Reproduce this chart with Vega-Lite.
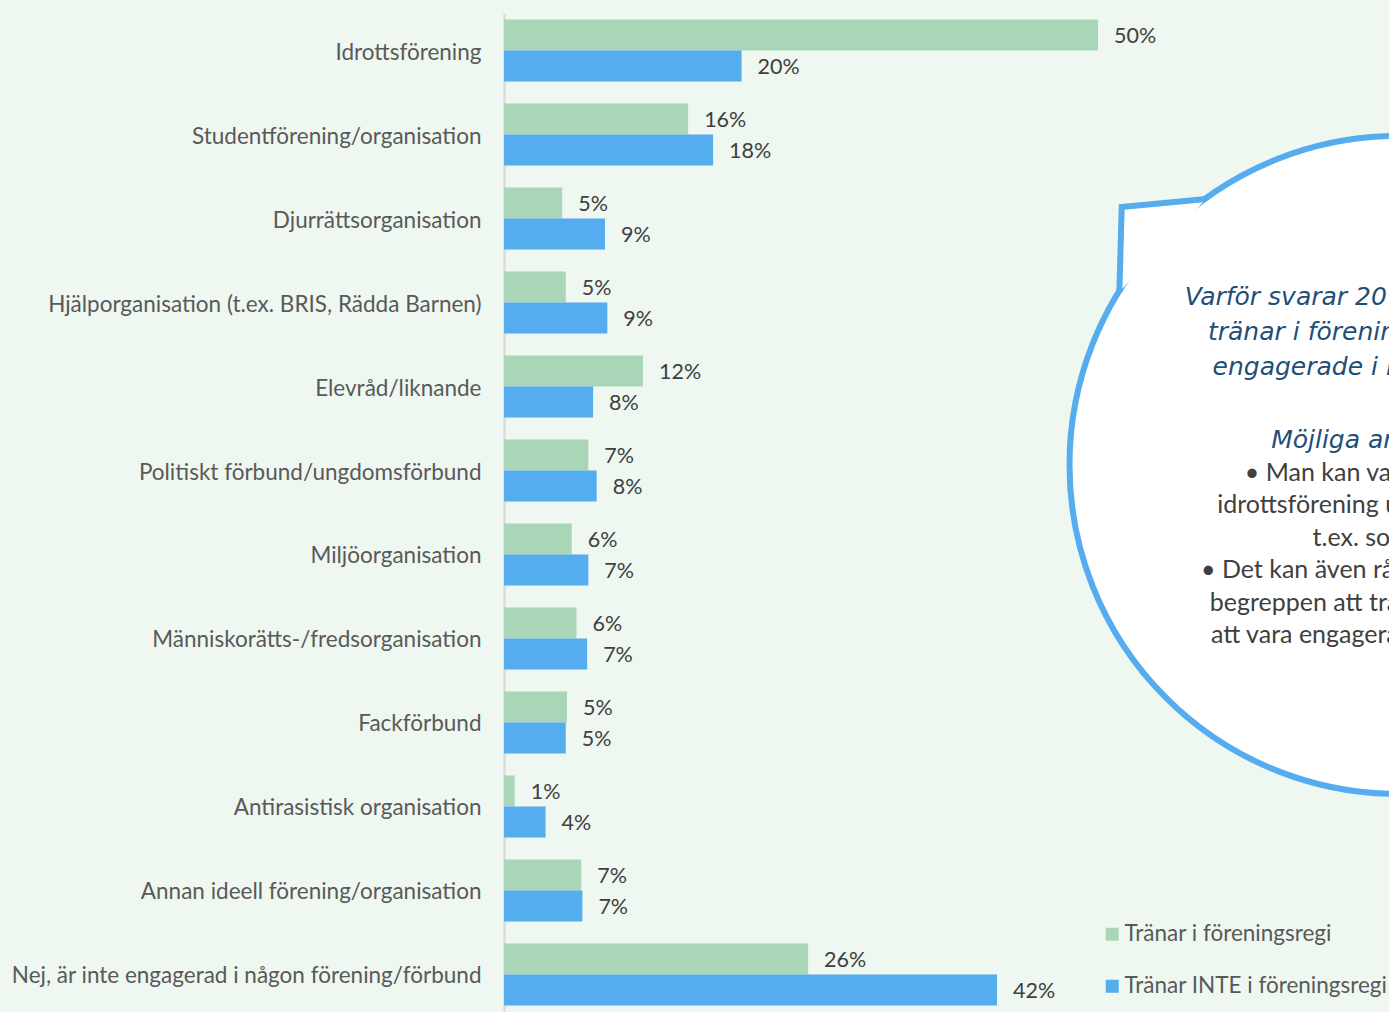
{
  "$schema": "https://vega.github.io/schema/vega-lite/v6.json",
  "width": 885,
  "height": 999,
  "autosize": {"type": "none"},
  "padding": {"left": 504, "top": 13, "right": 0, "bottom": 0},
  "background": "#EEF7F0",
  "config": {"view": {"stroke": null}, "font": "Lato"},
  "layer": [
    {
      "data": {
        "values": [
          {"cat": "Idrottsförening", "series": "Tränar i föreningsregi", "value": 50.0, "label": "50%"},
          {"cat": "Idrottsförening", "series": "Tränar INTE i föreningsregi", "value": 20.0, "label": "20%"},
          {"cat": "Studentförening/organisation", "series": "Tränar i föreningsregi", "value": 15.5, "label": "16%"},
          {"cat": "Studentförening/organisation", "series": "Tränar INTE i föreningsregi", "value": 17.6, "label": "18%"},
          {"cat": "Djurrättsorganisation", "series": "Tränar i föreningsregi", "value": 4.9, "label": "5%"},
          {"cat": "Djurrättsorganisation", "series": "Tränar INTE i föreningsregi", "value": 8.5, "label": "9%"},
          {"cat": "Hjälporganisation (t.ex. BRIS, Rädda Barnen)", "series": "Tränar i föreningsregi", "value": 5.2, "label": "5%"},
          {"cat": "Hjälporganisation (t.ex. BRIS, Rädda Barnen)", "series": "Tränar INTE i föreningsregi", "value": 8.7, "label": "9%"},
          {"cat": "Elevråd/liknande", "series": "Tränar i föreningsregi", "value": 11.7, "label": "12%"},
          {"cat": "Elevråd/liknande", "series": "Tränar INTE i föreningsregi", "value": 7.5, "label": "8%"},
          {"cat": "Politiskt förbund/ungdomsförbund", "series": "Tränar i föreningsregi", "value": 7.1, "label": "7%"},
          {"cat": "Politiskt förbund/ungdomsförbund", "series": "Tränar INTE i föreningsregi", "value": 7.8, "label": "8%"},
          {"cat": "Miljöorganisation", "series": "Tränar i föreningsregi", "value": 5.7, "label": "6%"},
          {"cat": "Miljöorganisation", "series": "Tränar INTE i föreningsregi", "value": 7.1, "label": "7%"},
          {"cat": "Människorätts-/fredsorganisation", "series": "Tränar i föreningsregi", "value": 6.1, "label": "6%"},
          {"cat": "Människorätts-/fredsorganisation", "series": "Tränar INTE i föreningsregi", "value": 7.0, "label": "7%"},
          {"cat": "Fackförbund", "series": "Tränar i föreningsregi", "value": 5.3, "label": "5%"},
          {"cat": "Fackförbund", "series": "Tränar INTE i föreningsregi", "value": 5.2, "label": "5%"},
          {"cat": "Antirasistisk organisation", "series": "Tränar i föreningsregi", "value": 0.9, "label": "1%"},
          {"cat": "Antirasistisk organisation", "series": "Tränar INTE i föreningsregi", "value": 3.5, "label": "4%"},
          {"cat": "Annan ideell förening/organisation", "series": "Tränar i föreningsregi", "value": 6.5, "label": "7%"},
          {"cat": "Annan ideell förening/organisation", "series": "Tränar INTE i föreningsregi", "value": 6.6, "label": "7%"},
          {"cat": "Nej, är inte engagerad i någon förening/förbund", "series": "Tränar i föreningsregi", "value": 25.6, "label": "26%"},
          {"cat": "Nej, är inte engagerad i någon förening/förbund", "series": "Tränar INTE i föreningsregi", "value": 41.5, "label": "42%"}
        ]
      },
      "encoding": {
        "y": {
          "field": "cat", "type": "nominal", "sort": null,
          "scale": {"paddingInner": 0.262, "paddingOuter": 0.0776},
          "axis": {
            "title": null, "ticks": false, "tickSize": 0, "labelPadding": 23, "labelOffset": 2,
            "labelFontSize": 22.5, "labelColor": "#595959", "labelFont": "Lato",
            "domainColor": "#D9D9D9", "domainWidth": 2, "labelLimit": 600, "grid": false
          }
        },
        "yOffset": {
          "field": "series", "type": "nominal",
          "sort": ["Tränar i föreningsregi", "Tränar INTE i föreningsregi"],
          "scale": {"paddingInner": 0, "paddingOuter": 0}
        },
        "x": {
          "field": "value", "type": "quantitative",
          "scale": {"domain": [0, 74.5], "nice": false, "zero": true},
          "axis": null
        }
      },
      "layer": [
        {
          "mark": {"type": "bar"},
          "encoding": {
            "color": {
              "field": "series", "type": "nominal",
              "scale": {"domain": ["Tränar i föreningsregi", "Tränar INTE i föreningsregi"], "range": ["#A8D6B6", "#55ACEE"]},
              "legend": {
                "orient": "none", "legendX": 597, "legendY": 910, "title": null,
                "symbolType": "square", "symbolSize": 169, "symbolStrokeWidth": 0,
                "labelFont": "Lato", "labelFontSize": 22.5, "labelColor": "#595959",
                "labelOffset": 1, "rowPadding": 29, "padding": 0, "labelLimit": 500
              }
            }
          }
        },
        {
          "mark": {"type": "text", "align": "left", "baseline": "middle", "dx": 16, "dy": 2, "fontSize": 21.5, "color": "#404040", "font": "Lato"},
          "encoding": {"text": {"field": "label", "type": "nominal"}}
        }
      ]
    },
    {
      "encoding": {
        "x": {"field": "x", "type": "quantitative", "scale": {"domain": [0, 74.5], "nice": false, "zero": true}, "axis": null},
        "y": {"field": "y", "type": "quantitative", "scale": {"domain": [0, 12], "nice": false, "reverse": true, "zero": false}, "axis": null}
      },
      "layer": [
        {
          "data": {"values": [{"x": 75.3, "y": 5.429}]},
          "mark": {"type": "point", "shape": "circle", "size": 432964, "filled": true, "fill": "#FFFFFF", "stroke": "#55ACEE", "strokeWidth": 6, "opacity": 1}
        },
        {
          "data": {"values": [
            {"x": 59.1, "y": 2.234, "o": 1},
            {"x": 52.0, "y": 2.330, "o": 2},
            {"x": 51.8, "y": 3.351, "o": 3}
          ]},
          "mark": {"type": "line", "fill": "#FFFFFF", "stroke": "#55ACEE", "strokeWidth": 6, "strokeJoin": "miter"},
          "encoding": {"order": {"field": "o", "type": "quantitative"}}
        },
        {
          "data": {"values": [{"x": 75.3, "y": 3.411, "t": "Varför svarar 20 % av de som inte\ntränar i föreningsregi att de är\nengagerade i idrottsförening?"}]},
          "mark": {"type": "text", "align": "center", "baseline": "middle", "lineBreak": "\n", "lineHeight": 35, "fontSize": 25, "fontStyle": "italic", "font": "DejaVu Sans", "color": "#1F4E79"},
          "encoding": {"text": {"field": "t", "type": "nominal"}}
        },
        {
          "data": {"values": [{"x": 75.3, "y": 5.129, "t": "Möjliga anledningar:"}]},
          "mark": {"type": "text", "align": "center", "baseline": "middle", "fontSize": 25, "fontStyle": "italic", "font": "DejaVu Sans", "color": "#1F4E79"},
          "encoding": {"text": {"field": "t", "type": "nominal"}}
        },
        {
          "data": {"values": [{"x": 75.3, "y": 5.526, "t": "• Man kan vara medlem i en\nidrottsförening utan att träna där,\nt.ex. som ledare\n• Det kan även råda osäkerhet kring\nbegreppen att träna i föreningsregi\natt vara engagerad i föreningslivet."}]},
          "mark": {"type": "text", "align": "center", "baseline": "middle", "lineBreak": "\n", "lineHeight": 32.4, "fontSize": 25, "font": "Lato", "color": "#404040"},
          "encoding": {"text": {"field": "t", "type": "nominal"}}
        }
      ]
    }
  ],
  "resolve": {"scale": {"y": "independent"}, "axis": {"y": "independent"}}
}
